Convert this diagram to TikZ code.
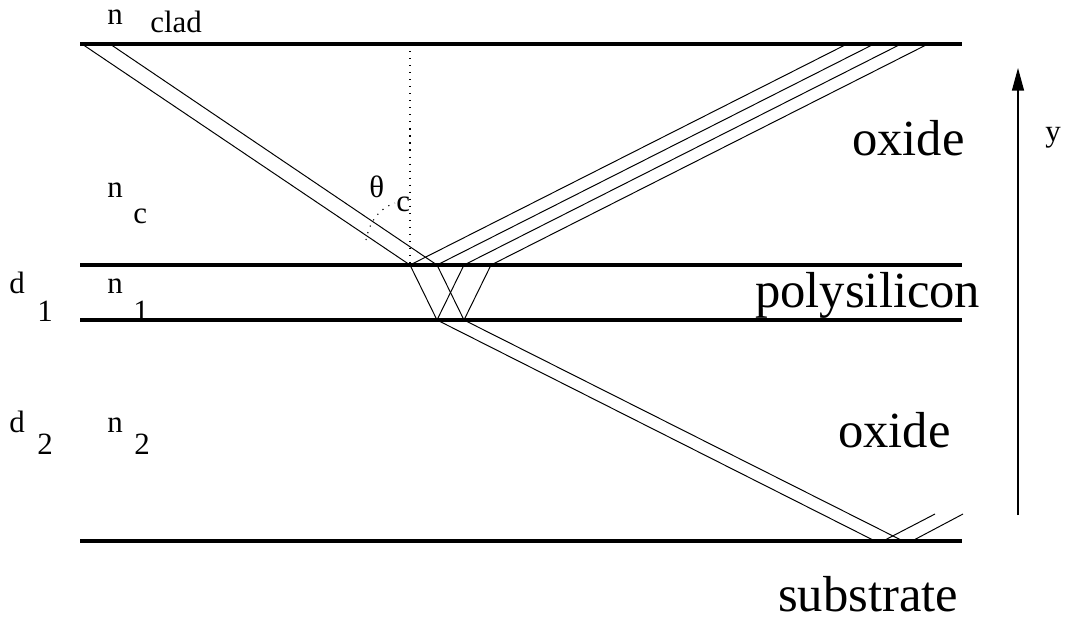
\documentclass[tikz,border=0pt]{standalone}
\usepackage{fontspec}
\setmainfont{Liberation Serif}
\usetikzlibrary{arrows.meta}

\begin{document}
\begin{tikzpicture}[x=0.025cm, y=-0.025cm,
    layer/.style={line width=2.9pt},
    ray/.style={line width=0.7pt},
    guide/.style={line width=0.8pt, dash pattern=on 0.8pt off 4.2pt},
    big/.style={inner sep=0pt, anchor=base west, font=\fontsize{36}{40}\selectfont},
    small/.style={inner sep=0pt, anchor=base west, font=\fontsize{22}{24}\selectfont}]
    \useasboundingbox (0,0) rectangle (1068,621);

    \draw[layer] (80,44) -- (962,44);
    \draw[layer] (80,265) -- (962,265);
    \draw[layer] (80,320) -- (962,320);
    \draw[layer] (80,541) -- (962,541);

    \coordinate (a1) at (410,265);
    \coordinate (a2) at (437,265);
    \coordinate (a3) at (464,265);
    \coordinate (a4) at (491,265);
    \coordinate (b1) at (437,320);
    \coordinate (b2) at (464,320);

    \draw[ray] (82,44) -- (a1);
    \draw[ray] (110,44) -- (a2);
    \draw[ray] (a1) -- (847,44);
    \draw[ray] (a2) -- (874,44);
    \draw[ray] (a3) -- (901,44);
    \draw[ray] (a4) -- (928,44);

    \draw[ray] (a1) -- (b1) -- (a3);
    \draw[ray] (a2) -- (b2) -- (a4);

    \draw[ray] (b1) -- (875,541);
    \draw[ray] (b2) -- (903,541);
    \draw[ray] (883,541) -- (935,514);
    \draw[ray] (912,541) -- (963,514);

    \draw[guide] (410,44) -- (a1);
    \draw[guide] (366,240) .. controls (370,220) and (380,208) .. (395,203);

    \node[small] (nclad) at (107,24) {n};
    \node[small] (clad) at (150,32) {clad};
    \node[small] (nc) at (107,197) {n};
    \node[small] (csub) at (133,223) {c};
    \node[small] (theta) at (369,197) {θ};
    \node[small] (thetac) at (396,211) {c};
    \node[small] (d1) at (9,293) {d};
    \node[small] (d1sub) at (37,321) {1};
    \node[small] (n1) at (107,293) {n};
    \node[small] (n1sub) at (133,321) {1};
    \node[small] (d2) at (9,432) {d};
    \node[small] (d2sub) at (37,454) {2};
    \node[small] (n2) at (107,432) {n};
    \node[small] (n2sub) at (134,454) {2};

    \node[big] (oxtop) at (852,155) {oxide};
    \node[big] (poly) at (755,307) {polysilicon};
    \node[big] (oxbot) at (838,447) {oxide};
    \node[big] (subs) at (778,611) {substrate};

    \coordinate (ybot) at (1018,515);
    \coordinate (ytop) at (1018,68);
    \draw[line width=0.8pt, -{Triangle[length=16pt, width=8.5pt]}] (ybot) -- (ytop);
    \node[small] (yaxis) at (1045,141) {y};
\end{tikzpicture}
\end{document}
